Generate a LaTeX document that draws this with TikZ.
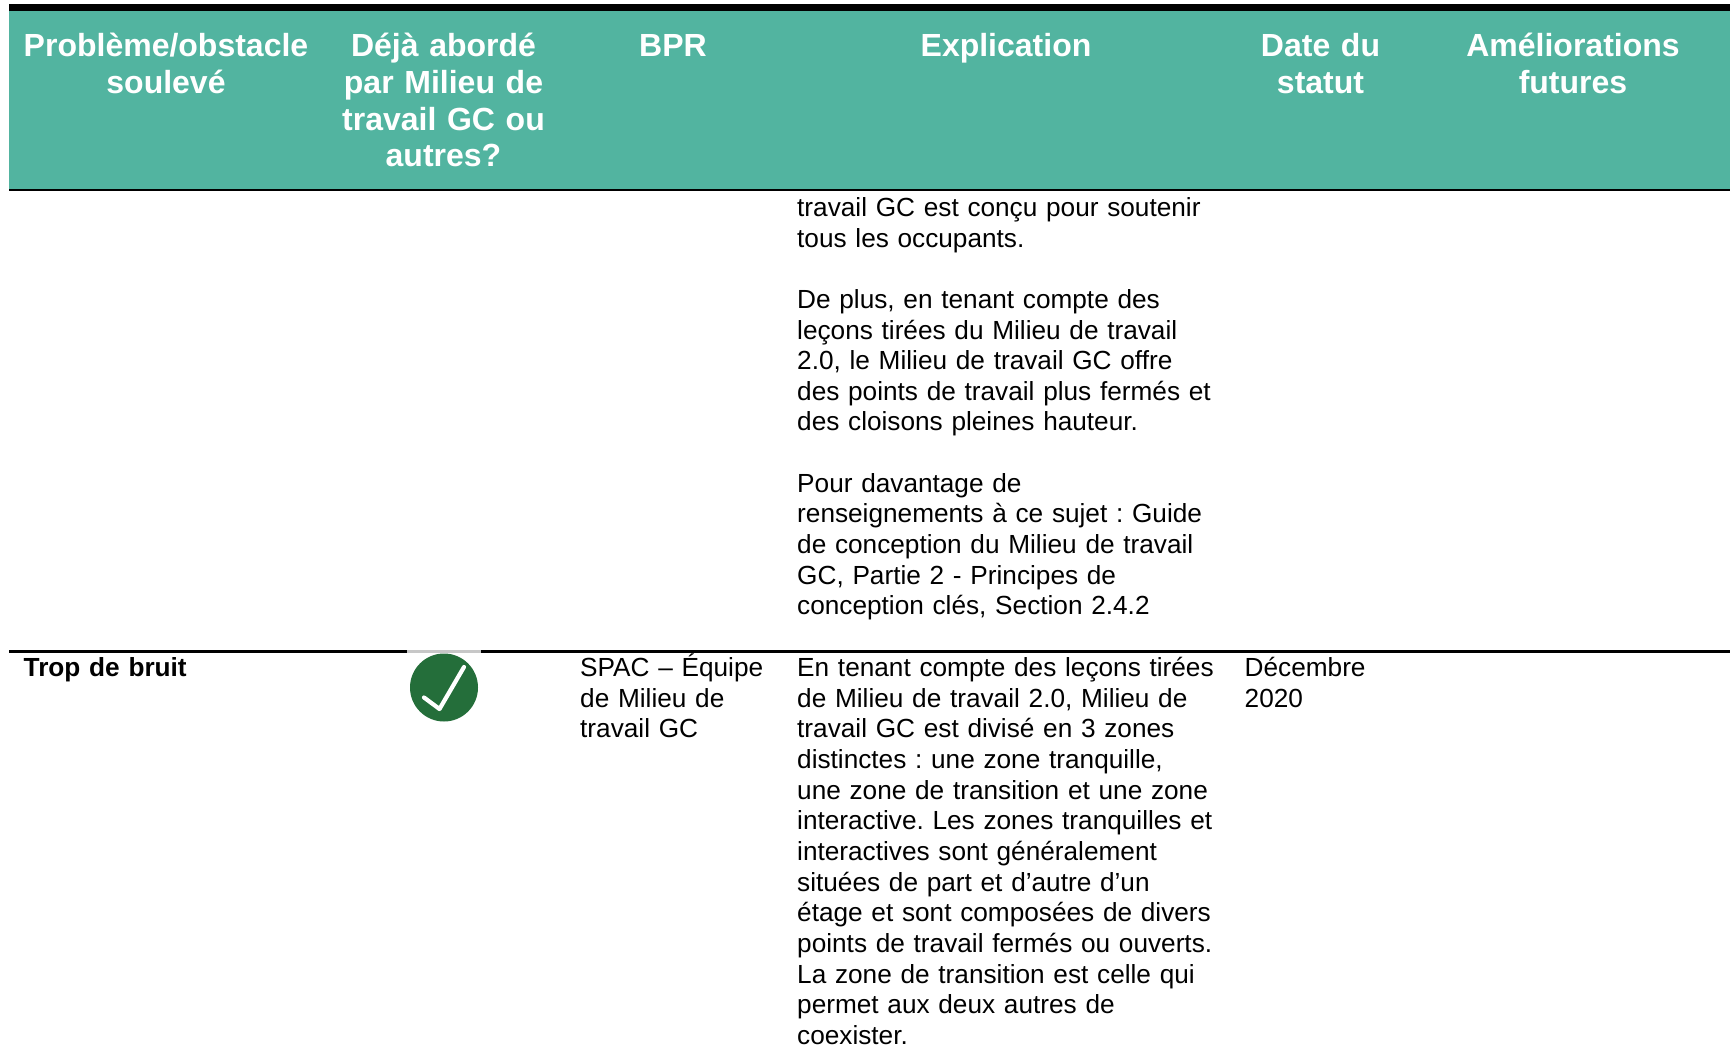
\documentclass[tikz,border=0pt]{standalone}
\usepackage{fontspec}
\setmainfont{Liberation Sans}
\definecolor{hdrteal}{RGB}{82,180,160}
\definecolor{okgreen}{RGB}{36,110,58}
\frenchspacing
\begin{document}
\begin{tikzpicture}[x=1pt,y=-1pt,
  hdr/.style={anchor=base, text=white, inner sep=0pt, align=center, text width=300pt,
    font=\bfseries\fontsize{32}{36.8}\selectfont},
  cell/.style={anchor=base west, inner sep=0pt, align=left, text width=440pt,
    font=\frenchspacing\fontsize{26.2}{30.64}\selectfont},
  boldcell/.style={cell, font=\bfseries\fontsize{26.2}{30.64}\selectfont},
  rule/.style={line width=2.2pt, black}]
\useasboundingbox (0,0) rectangle (1730,1047);
\fill[white] (0,0) rectangle (1730,1047);
% header band
\fill[black] (9,4) rectangle (1730,10.5);
\fill[hdrteal] (9,10.5) rectangle (1730,189);
\draw[rule] (9,190) -- (1730,190);
\node[hdr] (h1) at (166,56.5) {Problème/obstacle\\soulevé};
\node[hdr] (h2) at (443.5,56.5) {Déjà abordé\\par Milieu de\\travail GC ou\\autres?};
\node[hdr] (h3) at (673,56.5) {BPR};
\node[hdr] (h4) at (1006,56.5) {Explication};
\node[hdr] (h5) at (1320.5,56.5) {Date du\\statut};
\node[hdr] (h6) at (1573,56.5) {Améliorations\\futures};
% continued row
\node[cell] (e1) at (797,216.5) {travail GC est conçu pour soutenir\\
tous les occupants.\\[30.64pt]
De plus, en tenant compte des\\
leçons tirées du Milieu de travail\\
2.0, le Milieu de travail GC offre\\
des points de travail plus fermés et\\
des cloisons pleines hauteur.\\[30.64pt]
Pour davantage de\\
renseignements à ce sujet : Guide\\
de conception du Milieu de travail\\
GC, Partie 2 - Principes de\\
conception clés, Section 2.4.2};
% row divider
\draw[rule] (9,651.5) -- (1730,651.5);
\draw[line width=2.2pt, black!22] (407,651.5) -- (481,651.5);
% second row
\node[boldcell] (r1) at (23.5,676.7) {Trop de bruit};
\node[circle, fill=okgreen, minimum size=68pt, inner sep=0pt] (icon) at (444,687.5) {};
\draw[white, line width=4.2pt, line cap=round, line join=round]
  ([shift={(-20,10)}]icon.center) -- ([shift={(-4.5,21.5)}]icon.center) -- ([shift={(20,-20.5)}]icon.center);
\node[cell] (b1) at (580,676.7) {SPAC – Équipe\\de Milieu de\\travail GC};
\node[cell] (e2) at (797,676.7) {En tenant compte des leçons tirées\\
de Milieu de travail 2.0, Milieu de\\
travail GC est divisé en 3 zones\\
distinctes : une zone tranquille,\\
une zone de transition et une zone\\
interactive. Les zones tranquilles et\\
interactives sont généralement\\
situées de part et d’autre d’un\\
étage et sont composées de divers\\
points de travail fermés ou ouverts.\\
La zone de transition est celle qui\\
permet aux deux autres de\\
coexister.};
\node[cell] (d1) at (1244.5,676.7) {Décembre\\2020};
\end{tikzpicture}
\end{document}
